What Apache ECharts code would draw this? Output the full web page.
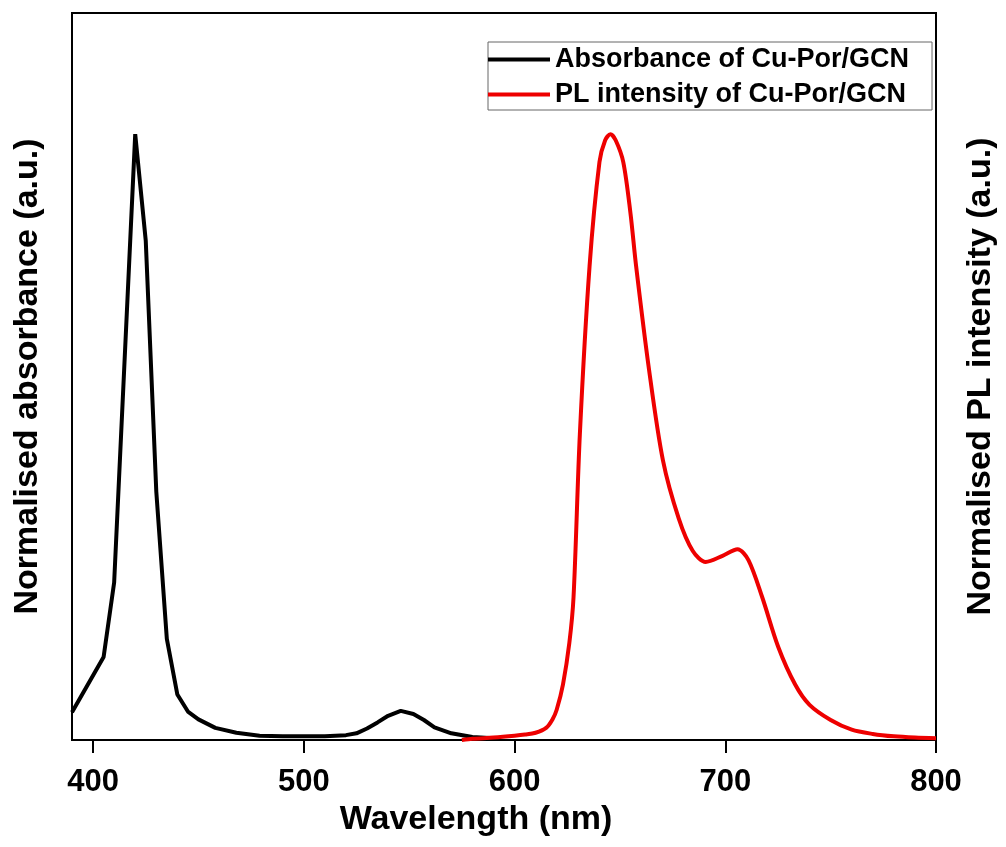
<!DOCTYPE html>
<html>
<head>
<meta charset="utf-8">
<script src="https://cdn.jsdelivr.net/npm/echarts@6/dist/echarts.min.js"></script>
<style>
html,body{margin:0;padding:0;background:#fff;}
#chart{width:1006px;height:847px;}
</style>
</head>
<body>
<div id="chart"></div>
<script>
// Absorbance of Cu-Por/GCN
const absWavelength = [390, 405, 410, 420, 425, 430, 435, 440, 445, 450, 458, 468, 479, 490, 500, 510, 520, 525, 530, 535, 540, 546, 552, 557, 562, 570, 580, 590];
const absValue      = [0.046, 0.137, 0.260, 1.000, 0.824, 0.410, 0.167, 0.075, 0.047, 0.034, 0.020, 0.012, 0.007, 0.006, 0.006, 0.006, 0.008, 0.011, 0.019, 0.029, 0.040, 0.048, 0.043, 0.033, 0.021, 0.011, 0.005, 0.003];

// PL intensity of Cu-Por/GCN
const plWavelength = [575, 580, 590, 600, 605, 610, 615, 618, 620, 623, 626, 628, 631, 635.6, 640.3, 643, 645.5, 648, 651.6, 655, 657.7, 663.8, 670.4, 677.9, 684.6, 690.7, 698.7, 705.8, 711, 717.5, 725.1, 733.1, 740, 750, 760, 770, 780, 790, 800];
const plValue      = [0.000, 0.002, 0.004, 0.007, 0.009, 0.012, 0.020, 0.034, 0.050, 0.092, 0.160, 0.236, 0.505, 0.782, 0.954, 0.990, 1.000, 0.990, 0.954, 0.870, 0.782, 0.612, 0.462, 0.366, 0.312, 0.294, 0.304, 0.315, 0.297, 0.236, 0.154, 0.092, 0.058, 0.033, 0.017, 0.010, 0.006, 0.004, 0.003];

const xTicks = [400, 500, 600, 700, 800];
const seriesNames = ['Absorbance of Cu-Por/GCN', 'PL intensity of Cu-Por/GCN'];

const absData = absWavelength.map((x, i) => [x, absValue[i]]);
const plData = plWavelength.map((x, i) => [x, plValue[i]]);

const FONT = 'Liberation Sans, Arial, sans-serif';
const chart = echarts.init(document.getElementById('chart'), null, {renderer: 'canvas'});
chart.setOption({
  backgroundColor: '#fff',
  animation: false,
  grid: {left: 72, right: 64, top: 13, bottom: 107, show: true, borderColor: '#000', borderWidth: 2, backgroundColor: 'transparent'},
  legend: {
    orient: 'vertical',
    left: 488,
    top: 42,
    align: 'left',
    icon: 'rect',
    itemWidth: 62,
    itemHeight: 4,
    itemGap: 8,
    padding: [4, 23, 2, 0],
    borderColor: '#666',
    borderWidth: 1,
    textStyle: {fontFamily: FONT, fontWeight: 'bold', fontSize: 27, color: '#000'},
    data: seriesNames
  },
  xAxis: {
    type: 'value',
    min: 390,
    max: 800,
    name: 'Wavelength (nm)',
    nameLocation: 'middle',
    nameGap: 56,
    nameTextStyle: {fontFamily: FONT, fontWeight: 'bold', fontSize: 34, color: '#000', padding: [0, 56, 0, 0]},
    axisLine: {show: true, lineStyle: {color: '#000', width: 2}},
    axisTick: {show: true, length: 13, lineStyle: {color: '#000', width: 2}, customValues: xTicks},
    axisLabel: {fontFamily: FONT, fontWeight: 'bold', fontSize: 31, color: '#000', margin: 27, customValues: xTicks},
    splitLine: {show: false}
  },
  yAxis: [{
    type: 'value',
    min: 0,
    max: 1.2,
    position: 'left',
    name: 'Normalised absorbance (a.u.)',
    nameLocation: 'middle',
    nameRotate: 90,
    nameGap: 27,
    nameTextStyle: {fontFamily: FONT, fontWeight: 'bold', fontSize: 34, color: '#000'},
    axisLine: {show: true, lineStyle: {color: '#000', width: 2}},
    axisTick: {show: false},
    axisLabel: {show: false},
    splitLine: {show: false}
  }, {
    type: 'value',
    min: 0,
    max: 1.2,
    position: 'right',
    name: 'Normalised PL intensity (a.u.)',
    nameLocation: 'middle',
    nameRotate: 90,
    nameGap: 28,
    nameTextStyle: {fontFamily: FONT, fontWeight: 'bold', fontSize: 34, color: '#000'},
    axisLine: {show: true, lineStyle: {color: '#000', width: 2}},
    axisTick: {show: false},
    axisLabel: {show: false},
    splitLine: {show: false}
  }],
  series: [{
    name: seriesNames[0],
    type: 'line',
    yAxisIndex: 0,
    data: absData,
    symbol: 'none',
    smooth: false,
    lineStyle: {color: '#000', width: 4},
    itemStyle: {color: '#000'},
    z: 3
  }, {
    name: seriesNames[1],
    type: 'line',
    yAxisIndex: 1,
    data: plData,
    symbol: 'none',
    smooth: 0.3,
    lineStyle: {color: '#ee0000', width: 4},
    itemStyle: {color: '#ee0000'},
    z: 4
  }]
});
</script>
</body>
</html>
